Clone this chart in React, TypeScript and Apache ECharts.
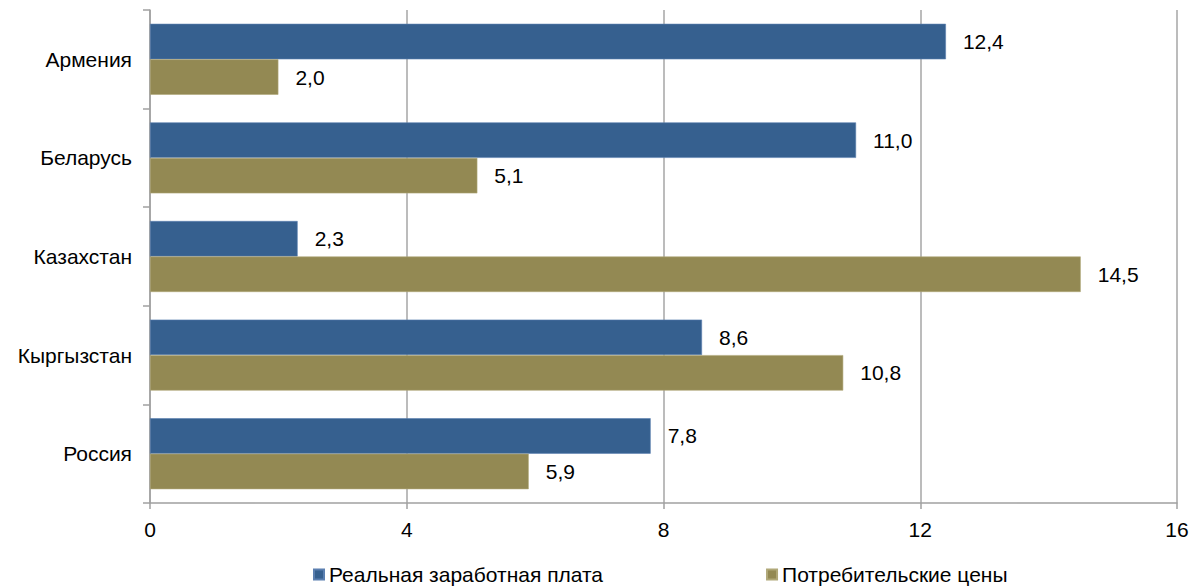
import React, { useEffect, useRef } from "react";
import * as echarts from "echarts";

const categories = ["Армения", "Беларусь", "Казахстан", "Кыргызстан", "Россия"];
const wages = [12.4, 11.0, 2.3, 8.6, 7.8];
const prices = [2.0, 5.1, 14.5, 10.8, 5.9];
const xTicks = [0, 4, 8, 12, 16];
const seriesNames = ["Реальная заработная плата", "Потребительские цены"];

const FONT = "'Liberation Sans', Arial, sans-serif";
const FS = 21;
const fmt = (v: number) => v.toFixed(1).replace(".", ",");

export default function App() {
  const ref = useRef<HTMLDivElement>(null);
  useEffect(() => {
    document.body.style.margin = "0";
    const chart = echarts.init(ref.current!, null, { renderer: "svg" });
    const label = {
      show: true,
      position: "right" as const,
      distance: 17,
      color: "#000",
      fontSize: FS,
      fontFamily: FONT,
      formatter: (p: any) => fmt(p.value),
    };
    chart.setOption({
      animation: false,
      textStyle: { fontFamily: FONT },
      grid: { left: 150, right: 19, top: 10, bottom: 84 },
      legend: {
        left: 313,
        top: 564,
        padding: 0,
        itemWidth: 10,
        itemHeight: 10,
        itemGap: 163,
        icon: "rect",
        textStyle: { fontSize: FS, color: "#000", fontFamily: FONT },
        data: seriesNames,
      },
      xAxis: {
        type: "value",
        min: xTicks[0],
        max: xTicks[xTicks.length - 1],
        interval: 4,
        axisLine: { show: true, lineStyle: { color: "#a0a0a0", width: 1.5 } },
        axisTick: { show: true, length: 6, lineStyle: { color: "#a0a0a0", width: 1.5 } },
        splitLine: { show: true, lineStyle: { color: "#a6a6a6", width: 1.5 } },
        axisLabel: { color: "#000", fontSize: FS, fontFamily: FONT, margin: 16 },
      },
      yAxis: {
        type: "category",
        inverse: true,
        data: categories,
        axisLine: { show: true, lineStyle: { color: "#a0a0a0", width: 1.5 } },
        axisTick: { show: true, length: 7, lineStyle: { color: "#a0a0a0", width: 1.5 } },
        axisLabel: { color: "#000", fontSize: FS, fontFamily: FONT, margin: 18 },
        splitLine: { show: false },
      },
      series: [
        {
          name: seriesNames[0],
          type: "bar",
          data: wages,
          barGap: "0%",
          barCategoryGap: "28%",
          itemStyle: { color: "#36608f", borderColor: "#5b7fb0", borderWidth: 0.6 },
          label,
        },
        {
          name: seriesNames[1],
          type: "bar",
          data: prices,
          barGap: "0%",
          barCategoryGap: "28%",
          itemStyle: { color: "#938953", borderColor: "#b0a878", borderWidth: 0.6 },
          label,
        },
      ],
    });
    return () => chart.dispose();
  }, []);
  return <div ref={ref} style={{ width: 1196, height: 587 }} />;
}
